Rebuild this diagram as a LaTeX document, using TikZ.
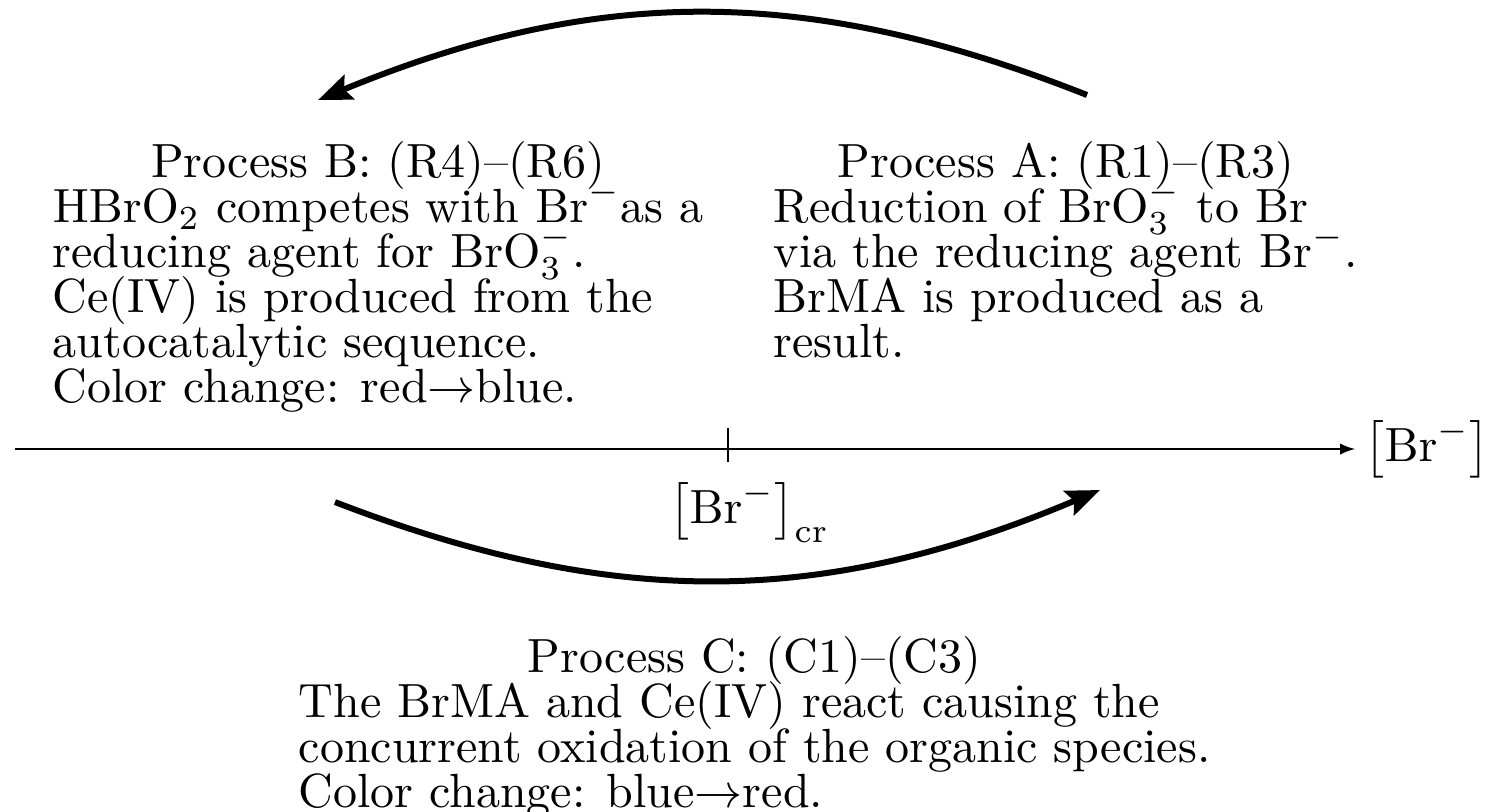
\documentclass[tikz,border=0pt]{standalone}
\usepackage{amssymb,amsmath}
\usepackage{graphicx}
\usepackage{tikz}
\usetikzlibrary{arrows,arrows.meta,positioning}
\newcommand{\bigtxt}[1]{\scalebox{1.28}{#1}}
% lines set at a fixed, tight baseline distance
\newcommand{\proclines}[1]{\bigtxt{\vbox{\baselineskip=9.375pt\lineskiplimit=-\maxdimen
  \halign{##\hfil\cr#1\crcr}}}}
\newcommand{\prochead}[1]{\omit\hfil#1\hfil}

\begin{document}
\begin{tikzpicture}[cycarrow/.style={-{Stealth[length=9pt,width=7pt,inset=1.5pt]},line width=1.6pt},
  procbox/.style={inner sep=0pt,anchor=north west}]
  \useasboundingbox (-6.824,-3.402) rectangle (7.114,4.209);
 %the bromide axis
  %draw axis
    \coordinate (xstart) at (-6.683,0);
    \coordinate (xend) at (5.877,0);
    \draw[-latex] (xstart) -- (xend);
    \node (brax) [right=-1pt of xend] {\bigtxt{$\left[\mathrm{Br}^-\right]$}};
  %critical value
    \coordinate (tickt) at (0,.2); \coordinate (tickb) at (0,-.12);
    \draw (tickt) -- (tickb);
    \node (brcr) at (.2,-.59) {\bigtxt{$\left[\mathrm{Br}^-\right]_{\mathrm{cr}}$}};
 %the processes
  %process B
    \node (procB) [procbox] at (-6.336,2.89) {\proclines{
      \prochead{Process B: (R4)--(R6)}\cr
      $\mathrm{HBrO}_2$ competes with $\mathrm{Br}^-$as a\cr
      reducing agent for $\mathrm{BrO}_3^-$.\cr
      Ce(IV) is produced from the\cr
      autocatalytic sequence.\cr
      Color change: red$\rightarrow$blue.}};
  %process A
    \node (procA) [procbox] at (.422,2.89) {\proclines{
      \prochead{Process A: (R1)--(R3)}\cr
      Reduction of $\mathrm{BrO}_3^-$ to Br\cr
      via the reducing agent $\mathrm{Br}^-$.\cr
      BrMA is produced as a\cr
      result.}};
  %process C
    \node (procC) [procbox] at (-4.03,-1.753) {\proclines{
      \prochead{Process C: (C1)--(C3)}\cr
      The BrMA and Ce(IV) react causing the\cr
      concurrent oxidation of the organic species.\cr
      Color change: blue$\rightarrow$red.}};
 %the cycle arrows
    \coordinate (topR) at (3.365,3.318); \coordinate (topL) at (-3.843,3.271);
    \coordinate (botL) at (-3.684,-.497); \coordinate (botR) at (3.487,-.384);
    \draw[cycarrow] (topR) to[bend right=22] (topL);
    \draw[cycarrow] (botL) to[bend right=22] (botR);
\end{tikzpicture}
\end{document}
